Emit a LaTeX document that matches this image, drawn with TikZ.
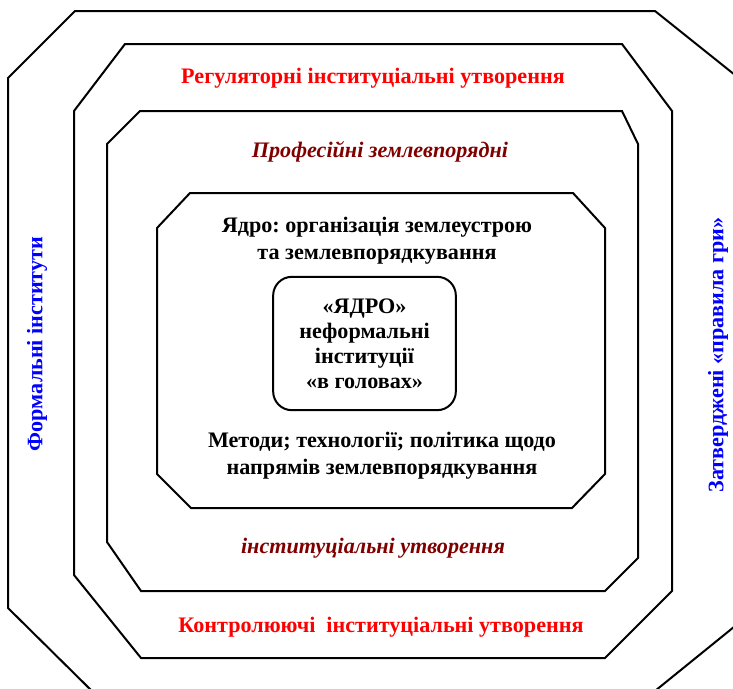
\documentclass[tikz,border=0pt]{standalone}
\usepackage{fontspec}
\setmainfont{Liberation Serif}
\frenchspacing
\usetikzlibrary{positioning}
\definecolor{regred}{RGB}{255,0,0}
\definecolor{profred}{RGB}{128,0,0}
\definecolor{ruleblue}{RGB}{0,0,255}
\tikzset{
  frame/.style={draw, line width=1.5pt, line join=miter},
  lbl/.style={font=\bfseries\fontsize{16.6}{20.2}\selectfont, align=center},
  ilbl/.style={font=\bfseries\itshape\fontsize{16.6}{20.2}\selectfont, text=profred},
}

\begin{document}
\begin{tikzpicture}[x=0.75pt, y=-0.75pt]
    \clip (0, 0) rectangle (733, 689);
    % outer ring
    \draw [frame] (75, 11) -- (655, 11) -- (745, 83) -- (745, 618) -- (650, 695)
                  -- (96, 695) -- (8, 608) -- (8, 78) -- cycle;
    % regulatory / controlling ring
    \draw [frame] (125, 44) -- (622, 44) -- (672, 111) -- (672, 591) -- (605, 658)
                  -- (141, 658) -- (74, 575) -- (74, 111) -- cycle;
    % professional ring
    \draw [frame] (140, 111) -- (622, 111) -- (638, 144) -- (638, 558) -- (605, 591)
                  -- (141, 591) -- (107, 542) -- (107, 144) -- cycle;
    % core
    \draw [frame] (190, 193) -- (573, 193) -- (605, 228) -- (605, 474) -- (572, 508)
                  -- (191, 508) -- (157, 474) -- (157, 228) -- cycle;
    % inner core
    \node [lbl, font=\bfseries\fontsize{16.6}{18.8}\selectfont, draw, line width=1.5pt,
           rounded corners=14pt, minimum width=137pt, minimum height=100pt,
           inner sep=0pt] (heads) at (364.5, 343.5)
          {«ЯДРО»\\неформальні\\інституції\\«в головах»};

    \node [lbl, text=regred] (regul) at (373, 78) {Регуляторні інституціальні утворення};
    \node [ilbl] (prof) at (380, 152) {Професійні землевпорядні};
    \node [lbl] (core) at (377, 241) {Ядро: організація землеустрою\\та землевпорядкування};
    \node [lbl] (methods) at (382, 456) {Методи; технології; політика щодо\\напрямів землевпорядкування};
    \node [ilbl] (inst) at (373, 548) {інституціальні утворення};
    \node [lbl, text=regred] (control) at (381, 627) {Контролюючі\ \ інституціальні утворення};
    \node [lbl, text=ruleblue, rotate=90] (formal) at (37, 344) {Формальні інститути};
    \node [lbl, text=ruleblue, rotate=90] (rules) at (718, 355) {Затверджені «правила гри»};
\end{tikzpicture}
\end{document}
